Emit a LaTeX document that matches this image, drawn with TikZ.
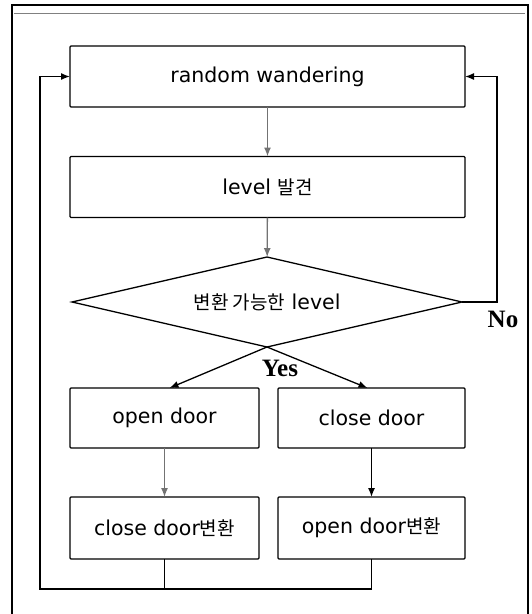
\documentclass[tikz,border=0pt]{standalone}
\usepackage{fontspec}
\newfontfamily\boxfont{DejaVu Sans}
\newfontfamily\krfont{Noto Sans CJK KR}
\newfontfamily\tagfont{Liberation Serif}
\usepackage{tikz}
\usetikzlibrary{arrows.meta,shapes.geometric,calc,positioning}

\begin{document}
\begin{tikzpicture}[x=1pt,y=1pt,
  box/.style={draw,line width=1.3pt,rounded corners=1pt,minimum width=395pt,minimum height=61pt,inner sep=0pt,outer sep=0pt,font=\boxfont\fontsize{20.5}{24}\selectfont},
  halfbox/.style={box,minimum width=189pt,minimum height=60pt},
  decide/.style={draw,diamond,line width=1.3pt,aspect=4.33,minimum width=390pt,minimum height=90pt,inner sep=0pt,outer sep=0pt,font=\boxfont\fontsize{20.5}{24}\selectfont},
  flow/.style={line width=1.3pt,-{Latex[length=9pt,width=7pt]}},
  faint/.style={flow,black!55},
  link/.style={line width=1.3pt},
  tag/.style={font=\tagfont\bfseries\fontsize{25}{27}\selectfont,inner sep=0pt}]
\useasboundingbox (0,0) rectangle (532,-614);
% frame
\draw[line width=1.5pt] (12,-640) -- (12,-5) -- (528,-5) -- (528,-640);
\draw[black!50,line width=1pt] (14,-13) -- (525,-13);
% boxes
\node[box] (rw) at (267.5,-76.5) {random wandering};
\node[box] (lvl) at (267.5,-187) {level {\krfont\fontsize{19}{24}\selectfont 발견}};
\node[decide] (dec) at (267,-302) {{\krfont\fontsize{19}{24}\selectfont 변환 가능한} level};
\node[halfbox] (open) at (164.5,-418) {open door};
\node[halfbox,minimum width=187pt] (close) at (371.5,-418) {close door};
\node[halfbox,minimum height=62pt] (closeX) at (164.5,-528) {close door{\krfont\fontsize{19}{24}\selectfont 변환}};
\node[halfbox,minimum width=187pt,minimum height=62pt] (openX) at (371.5,-528) {open door{\krfont\fontsize{19}{24}\selectfont 변환}};
\coordinate (loopL) at (40,-589);
\coordinate (loopR) at (497,-302);
% arrows
\draw[faint] (rw) -- (lvl);
\draw[faint] (lvl) -- (dec);
\draw[flow] (dec.south) -- ($(open.north)+(5,0)$);
\draw[flow] (dec.south) -- ($(close.north)+(-4,0)$);
\draw[faint] (open) -- (closeX);
\draw[flow] (close) -- (openX);
\draw[flow] (closeX.south) |- (loopL) |- (rw.west);
\draw[link] (openX.south) |- (loopL);
\draw[flow] (dec.east) -- (loopR) |- (rw.east);
\node[tag] (no) at ($(loopR)+(6,-17)$) {No};
\node[tag] (yes) at ($(dec.south)+(13,-21)$) {Yes};
\end{tikzpicture}
\end{document}
